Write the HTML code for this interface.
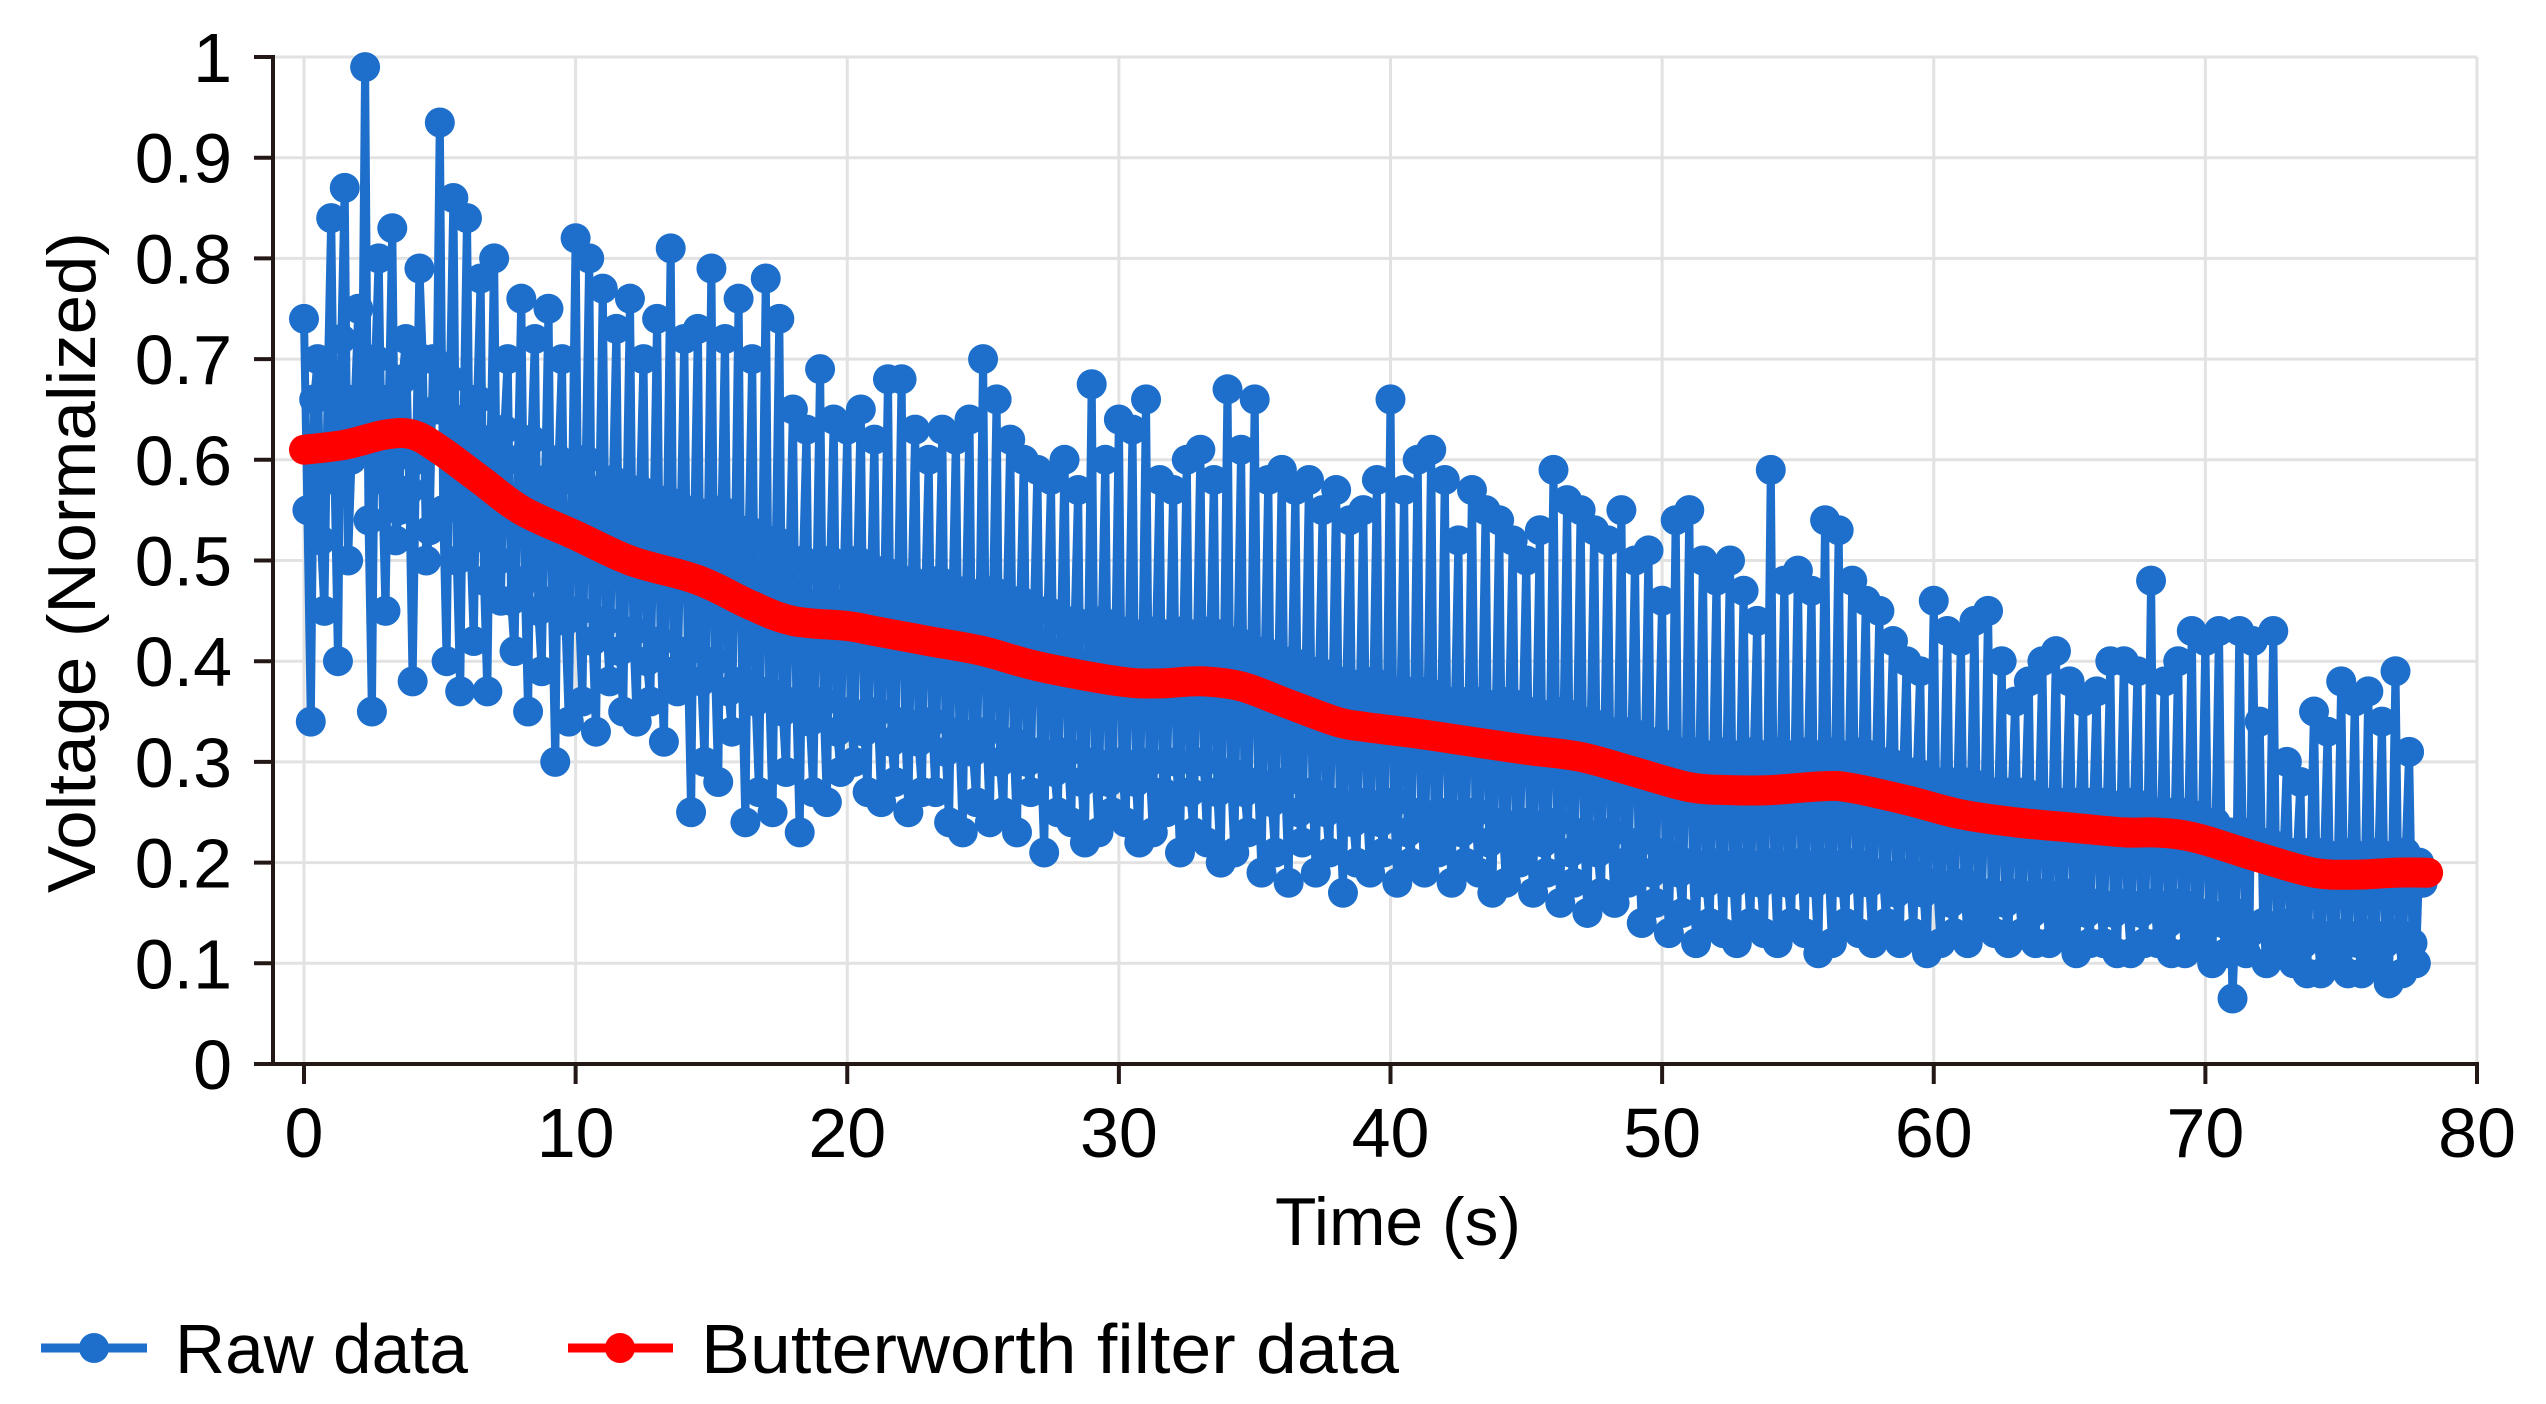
<!DOCTYPE html>
<html><head><meta charset="utf-8"><style>
html,body{margin:0;padding:0;background:#fff;}
svg{display:block;font-family:"Liberation Sans",Arial,sans-serif;}
</style></head><body>
<svg id="chart" width="2546" height="1404" viewBox="0 0 2546 1404" xmlns="http://www.w3.org/2000/svg">
<g id="grid"></g>
<g id="raw"></g>
<g id="filt"></g>
<g id="axes"></g>
<text x="1275" y="1245" font-size="68" textLength="246" lengthAdjust="spacingAndGlyphs" fill="#000">Time (s)</text>
<text transform="translate(95,563) rotate(-90)" x="-330" font-size="68" textLength="661" lengthAdjust="spacingAndGlyphs" fill="#000">Voltage (Normalized)</text>
<g>
<g>
<line x1="41" y1="1348" x2="147" y2="1348" stroke="#1d6fcb" stroke-width="9"/>
<circle cx="94" cy="1348" r="15" fill="#1d6fcb"/>
<text x="175" y="1373" font-size="70" textLength="293" lengthAdjust="spacingAndGlyphs" fill="#000">Raw data</text>
</g>
<g>
<line x1="568" y1="1348" x2="673" y2="1348" stroke="#ff0000" stroke-width="9"/>
<circle cx="620" cy="1348" r="15" fill="#ff0000"/>
<text x="701" y="1373" font-size="70" textLength="698" lengthAdjust="spacingAndGlyphs" fill="#000">Butterworth filter data</text>
</g>
</g>
</svg>
<script>
const xTicks=[0,10,20,30,40,50,60,70,80];
const yTicks=[0,0.1,0.2,0.3,0.4,0.5,0.6,0.7,0.8,0.9,1];
const yTickLabels=["0","0.1","0.2","0.3","0.4","0.5","0.6","0.7","0.8","0.9","1"];
const rawStep=0.25;
const rawValues=[
0.74,0.34,0.70,0.45, 0.84,0.40,0.87,0.60, 0.75,0.99,0.35,0.80, 0.45,0.83,0.55,0.72,
0.38,0.79,0.50,0.70, 0.935,0.40,0.86,0.37, 0.84,0.42,0.78,0.37, 0.80,0.46,0.70,0.41,
0.76,0.35,0.72,0.39, 0.75,0.30,0.70,0.34, 0.82,0.36,0.80,0.33, 0.77,0.38,0.73,0.35,
0.76,0.34,0.70,0.36, 0.74,0.32,0.81,0.37, 0.72,0.25,0.73,0.30, 0.79,0.28,0.72,0.33,
0.76,0.24,0.70,0.27, 0.78,0.25,0.74,0.29, 0.65,0.23,0.63,0.27, 0.69,0.26,0.64,0.29,
0.63,0.30,0.65,0.27, 0.62,0.26,0.68,0.28, 0.68,0.25,0.63,0.27, 0.60,0.27,0.63,0.24,
0.62,0.23,0.64,0.26, 0.70,0.24,0.66,0.25, 0.62,0.23,0.60,0.27, 0.59,0.21,0.58,0.25,
0.60,0.24,0.57,0.22, 0.675,0.23,0.60,0.25, 0.64,0.24,0.63,0.22, 0.66,0.23,0.58,0.25,
0.57,0.21,0.60,0.23, 0.61,0.22,0.58,0.20, 0.67,0.21,0.61,0.23, 0.66,0.19,0.58,0.21,
0.59,0.18,0.57,0.22, 0.58,0.19,0.55,0.21, 0.57,0.17,0.54,0.20, 0.55,0.19,0.58,0.21,
0.66,0.18,0.57,0.20, 0.60,0.19,0.61,0.21, 0.58,0.18,0.52,0.20, 0.57,0.19,0.55,0.17,
0.54,0.18,0.52,0.20, 0.50,0.17,0.53,0.19, 0.59,0.16,0.56,0.18, 0.55,0.15,0.53,0.17,
0.52,0.16,0.55,0.18, 0.50,0.14,0.51,0.16, 0.46,0.13,0.54,0.15, 0.55,0.12,0.50,0.14,
0.48,0.13,0.50,0.12, 0.47,0.14,0.44,0.13, 0.59,0.12,0.48,0.14, 0.49,0.13,0.47,0.11,
0.54,0.12,0.53,0.14, 0.48,0.13,0.46,0.12, 0.45,0.14,0.42,0.12, 0.40,0.13,0.39,0.11,
0.46,0.12,0.43,0.13, 0.42,0.12,0.44,0.14, 0.45,0.13,0.40,0.12, 0.36,0.13,0.38,0.12,
0.40,0.12,0.41,0.13, 0.38,0.11,0.36,0.12, 0.37,0.12,0.40,0.11, 0.40,0.11,0.39,0.12,
0.48,0.12,0.38,0.11, 0.40,0.11,0.43,0.12, 0.42,0.10,0.43,0.11, 0.065,0.43,0.11,0.42,
0.34,0.10,0.43,0.11, 0.30,0.10,0.28,0.09, 0.35,0.09,0.33,0.10, 0.38,0.09,0.36,0.09,
0.37,0.10,0.34,0.08, 0.39,0.09,0.31,0.10, 0.18];
const rawMidValues=[
0.55,0.66,0.52,0.68, 0.58,0.72,0.50,0.66, 0.62,0.54,0.70,0.58, 0.66,0.52,0.68,0.57,
0.60,0.70,0.53,0.65, 0.55,0.68,0.50,0.64, 0.52,0.66,0.48,0.62, 0.50,0.63,0.46,0.60,
0.48,0.62,0.45,0.58, 0.46,0.60,0.44,0.58, 0.45,0.60,0.42,0.57, 0.44,0.58,0.41,0.56,
0.43,0.57,0.40,0.55, 0.42,0.56,0.39,0.55, 0.41,0.55,0.38,0.54, 0.40,0.55,0.37,0.53,
0.38,0.53,0.36,0.52, 0.37,0.52,0.35,0.50, 0.36,0.50,0.34,0.49, 0.36,0.50,0.33,0.49,
0.35,0.50,0.33,0.48, 0.35,0.49,0.32,0.48, 0.34,0.48,0.32,0.47, 0.34,0.48,0.31,0.46,
0.33,0.47,0.31,0.46, 0.33,0.47,0.30,0.45, 0.32,0.46,0.30,0.45, 0.31,0.45,0.29,0.44,
0.31,0.44,0.28,0.43, 0.30,0.44,0.28,0.43, 0.30,0.43,0.28,0.42, 0.30,0.43,0.27,0.42,
0.30,0.43,0.27,0.42, 0.30,0.43,0.27,0.42, 0.29,0.42,0.27,0.41, 0.28,0.41,0.26,0.40,
0.28,0.40,0.25,0.39, 0.27,0.39,0.25,0.38, 0.26,0.38,0.24,0.37, 0.26,0.38,0.24,0.37,
0.26,0.37,0.23,0.37, 0.25,0.37,0.23,0.36, 0.25,0.36,0.23,0.36, 0.25,0.36,0.22,0.35,
0.24,0.36,0.22,0.35, 0.24,0.35,0.22,0.34, 0.24,0.35,0.21,0.34, 0.23,0.34,0.21,0.33,
0.23,0.33,0.20,0.33, 0.22,0.32,0.19,0.32, 0.21,0.31,0.19,0.31, 0.20,0.31,0.18,0.30,
0.20,0.31,0.18,0.30, 0.20,0.31,0.18,0.30, 0.20,0.31,0.18,0.30, 0.20,0.31,0.18,0.30,
0.20,0.31,0.18,0.30, 0.20,0.31,0.18,0.30, 0.19,0.30,0.17,0.29, 0.19,0.29,0.17,0.28,
0.18,0.28,0.16,0.28, 0.18,0.28,0.16,0.27, 0.17,0.27,0.16,0.27, 0.17,0.27,0.15,0.26,
0.17,0.26,0.15,0.26, 0.17,0.26,0.15,0.26, 0.16,0.26,0.15,0.25, 0.16,0.26,0.15,0.25,
0.16,0.25,0.14,0.25, 0.16,0.25,0.14,0.24, 0.15,0.24,0.14,0.23, 0.15,0.23,0.13,0.22,
0.14,0.22,0.13,0.21, 0.14,0.21,0.12,0.21, 0.13,0.21,0.12,0.20, 0.13,0.21,0.12,0.20,
0.13,0.21,0.12,0.20, 0.13,0.21,0.12,0.20];
const filtTimes=[0,1.5,3,4,5,6.5,8,10,12,14,15,16.5,18,20,21,23,25,27,30,31.5,33,34.5,36,38,39,41,43,45,47,49,51,52.5,54,56,57,59,61,63,65,67,68,69,70,72,74,75.5,77,78.2];
const filtValues=[0.61,0.615,0.625,0.625,0.61,0.58,0.55,0.525,0.5,0.485,0.475,0.455,0.44,0.435,0.43,0.42,0.41,0.395,0.38,0.378,0.38,0.375,0.36,0.34,0.335,0.328,0.32,0.312,0.305,0.29,0.275,0.272,0.272,0.276,0.274,0.262,0.248,0.24,0.235,0.23,0.23,0.228,0.222,0.205,0.19,0.188,0.19,0.19];

const X0=304, XS=(2477-304)/80, Y0=1064, YS=(1064-57);
const xs=v=>X0+v*XS, ys=v=>Y0-v*YS;
const NS="http://www.w3.org/2000/svg";
function mk(tag,attrs,parent){const e=document.createElementNS(NS,tag);for(const k in attrs)e.setAttribute(k,attrs[k]);parent.appendChild(e);return e;}

const grid=document.getElementById('grid');
xTicks.forEach(t=>{
  const l=mk('line',{x1:xs(t),x2:xs(t),y1:57,y2:Y0,stroke:'#e2e2e2','stroke-width':3},grid);
  
  
});
yTicks.forEach(t=>{
  const l=mk('line',{x1:273,x2:2477,y1:ys(t),y2:ys(t),stroke:'#e2e2e2','stroke-width':3},grid);
  
  
});

const pts=[];
rawValues.forEach((v,i)=>{
  pts.push([i*rawStep,v]);
  if(i<rawMidValues.length) pts.push([i*rawStep+rawStep/2,rawMidValues[i]]);
});

const raw=document.getElementById('raw');
let d='';
pts.forEach((q,i)=>{d+=(i?'L':'M')+xs(q[0]).toFixed(1)+' '+ys(q[1]).toFixed(1);});
const rl=mk('path',{d:d,fill:'none',stroke:'#1d6fcb','stroke-width':8,'stroke-linejoin':'round'},raw);


pts.forEach(q=>{
  const c=mk('circle',{cx:xs(q[0]),cy:ys(q[1]),r:15,fill:'#1d6fcb'},raw);
  
  
});

const filt=document.getElementById('filt');
let p=filtTimes.map((t,i)=>[xs(t),ys(filtValues[i])]);
let fd='M'+p[0][0]+' '+p[0][1];
for(let i=0;i<p.length-1;i++){
  const p0=p[Math.max(0,i-1)],p1=p[i],p2=p[i+1],p3=p[Math.min(p.length-1,i+2)];
  const c1=[p1[0]+(p2[0]-p0[0])/6,p1[1]+(p2[1]-p0[1])/6];
  const c2=[p2[0]-(p3[0]-p1[0])/6,p2[1]-(p3[1]-p1[1])/6];
  fd+='C'+c1[0].toFixed(1)+' '+c1[1].toFixed(1)+' '+c2[0].toFixed(1)+' '+c2[1].toFixed(1)+' '+p2[0].toFixed(1)+' '+p2[1].toFixed(1);
}
const fl=mk('path',{d:fd,fill:'none',stroke:'#ff0000','stroke-width':30,'stroke-linecap':'round','stroke-linejoin':'round'},filt);



const axes=document.getElementById('axes');
const ya=mk('line',{x1:273,x2:273,y1:55,y2:1066,stroke:'#231815','stroke-width':4},axes);


const xa=mk('line',{x1:254,x2:2479,y1:Y0,y2:Y0,stroke:'#231815','stroke-width':4},axes);


yTicks.forEach((t,i)=>{
  const tk=mk('line',{x1:254,x2:273,y1:ys(t),y2:ys(t),stroke:'#231815','stroke-width':4},axes);
  
  
  const tx=mk('text',{x:232,y:ys(t)+25,'font-size':70,'text-anchor':'end',fill:'#000'},axes);
  tx.textContent=yTickLabels[i];
  
  
});
xTicks.forEach(t=>{
  const tk=mk('line',{x1:xs(t),x2:xs(t),y1:Y0,y2:Y0+20,stroke:'#231815','stroke-width':4},axes);
  
  
  const tx=mk('text',{x:xs(t),y:1157,'font-size':70,'text-anchor':'middle',fill:'#000'},axes);
  tx.textContent=String(t);
  
  
});
</script>
</body></html>
